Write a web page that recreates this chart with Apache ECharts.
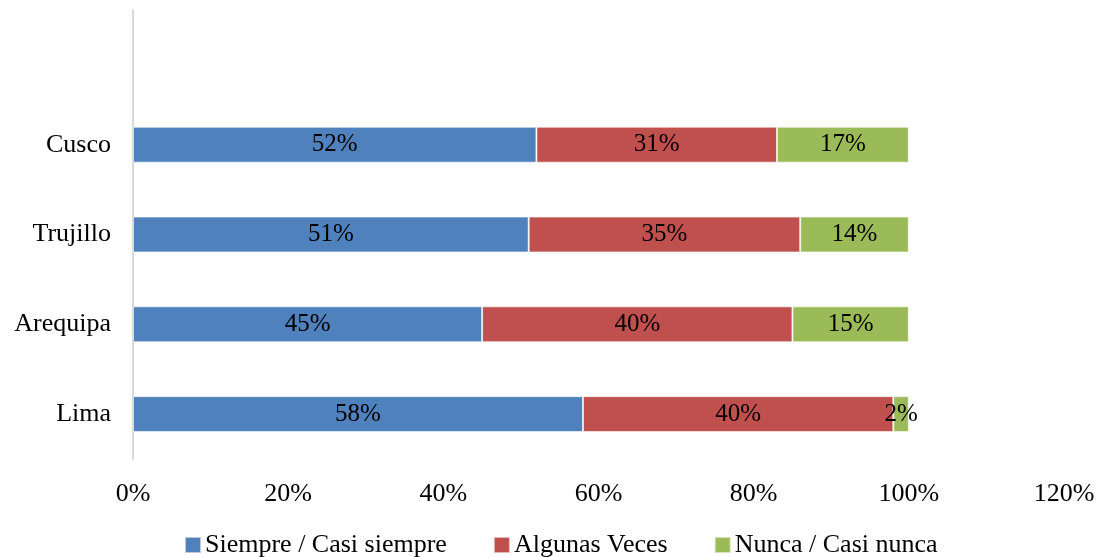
<!DOCTYPE html>
<html>
<head>
<meta charset="utf-8">
<script src="https://cdn.jsdelivr.net/npm/echarts@6/dist/echarts.min.js"></script>
<style>
  html, body { margin: 0; padding: 0; background: #fff; }
  #chart { width: 1099px; height: 557px; }
</style>
</head>
<body>
<div id="chart"></div>
<script>
var categories = ['Lima', 'Arequipa', 'Trujillo', 'Cusco']
var siempre = [58, 45, 51, 52]
var algunas = [40, 40, 35, 31]
var nunca = [2, 15, 14, 17]
var seriesNames = ['Siempre / Casi siempre', 'Algunas Veces', 'Nunca / Casi nunca']

var font = 'Liberation Serif, Times New Roman, serif'

// hueco vacío arriba, como en el original
var axisCats = categories.concat([''])

function makeSeries(name, values) {
  return {
    name: name,
    type: 'bar',
    stack: 'total',
    barWidth: '40%',
    data: values.concat([null]),
    itemStyle: { borderColor: 'rgba(255,255,255,0.6)', borderWidth: 1 },
    label: {
      show: true,
      position: 'inside',
      color: '#000',
      fontFamily: font,
      fontSize: 25,
      formatter: function (p) { return p.value + '%' }
    }
  }
}

var myChart = echarts.init(document.getElementById('chart'))
var option = {
  animation: false,
  color: ['#4F81BD', '#C0504D', '#9BBB59'],
  grid: { left: 133, right: 35, top: 10, bottom: 98, containLabel: false },
  legend: {
    bottom: -6,
    left: 179,
    itemWidth: 16,
    itemHeight: 16,
    itemGap: 46,
    icon: 'rect',
    textStyle: { fontFamily: font, fontSize: 26, color: '#000', padding: [0, 0, 0, -1] },
    data: seriesNames
  },
  xAxis: {
    type: 'value',
    min: 0,
    max: 120,
    interval: 20,
    axisLine: { show: false },
    axisTick: { show: false },
    splitLine: { show: false },
    axisLabel: {
      margin: 22,
      color: '#000',
      fontFamily: font,
      fontSize: 26,
      formatter: '{value}%'
    }
  },
  yAxis: {
    type: 'category',
    data: axisCats,
    axisLine: { show: true, lineStyle: { color: '#D9D9D9', width: 2 } },
    axisTick: { show: false },
    axisLabel: {
      margin: 22,
      color: '#000',
      fontFamily: font,
      fontSize: 26
    }
  },
  series: [
    makeSeries(seriesNames[0], siempre),
    makeSeries(seriesNames[1], algunas),
    makeSeries(seriesNames[2], nunca)
  ]
}
option && myChart.setOption(option)
</script>
</body>
</html>
